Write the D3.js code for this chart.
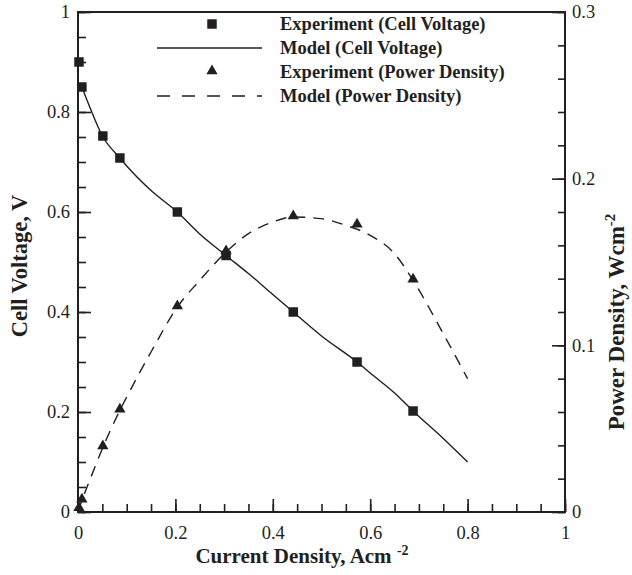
<!DOCTYPE html>
<html>
<head>
<meta charset="utf-8">
<script src="https://cdn.jsdelivr.net/npm/d3@7"></script>
<style>
  body { margin: 0; background: #fff; }
  text { font-family: "Liberation Serif", "Times New Roman", serif; fill: #231f20; }
</style>
</head>
<body>
<svg id="chart" width="632" height="575"></svg>
<script>
// experiment points
var expCurrent = [0.002, 0.008, 0.051, 0.086, 0.204, 0.304, 0.442, 0.573, 0.688];
var expVoltage = [0.9, 0.85, 0.752, 0.708, 0.6, 0.513, 0.4, 0.3, 0.202];
var expPower = [0.002, 0.007, 0.039, 0.061, 0.123, 0.156, 0.177, 0.172, 0.139];

// model curves
var modelCurrent = [0.008, 0.02, 0.05, 0.086, 0.1, 0.15, 0.204, 0.25, 0.304, 0.35, 0.4, 0.442, 0.5, 0.573, 0.6, 0.65, 0.688, 0.75, 0.8];
var modelVoltage = [0.85, 0.82, 0.752, 0.708, 0.692, 0.643, 0.6, 0.556, 0.513, 0.477, 0.435, 0.4, 0.352, 0.3, 0.278, 0.238, 0.202, 0.147, 0.1];
var powerCurrent = [0, 0.008, 0.02, 0.05, 0.086, 0.1, 0.15, 0.204, 0.25, 0.304, 0.35, 0.4, 0.442, 0.5, 0.55, 0.6, 0.65, 0.688, 0.75, 0.8];
var modelPower = [0, 0.007, 0.016, 0.038, 0.061, 0.069, 0.096, 0.123, 0.139, 0.156, 0.167, 0.174, 0.177, 0.176, 0.172, 0.166, 0.155, 0.139, 0.107, 0.08];

var xTicks = [0, 0.2, 0.4, 0.6, 0.8, 1];
var yTicks = [0, 0.2, 0.4, 0.6, 0.8, 1];
var y2Ticks = [0, 0.1, 0.2, 0.3];

var legendLabels = ['Experiment (Cell Voltage)', 'Model (Cell Voltage)', 'Experiment (Power Density)', 'Model (Power Density)'];

var INK = '#231f20';
var M = {left: 78, right: 67, top: 12, bottom: 63};
var W = 632, H = 575;

var svg = d3.select('#chart');

var x = d3.scaleLinear().domain([0, 1]).range([M.left, W - M.right]);
var y = d3.scaleLinear().domain([0, 1]).range([H - M.bottom, M.top]);
var y2 = d3.scaleLinear().domain([0, 0.3]).range([H - M.bottom, M.top]);

function axisStyle(g) {
  g.select('.domain').remove();
  g.selectAll('line').attr('stroke', INK).attr('stroke-width', 1.6);
  g.selectAll('text').attr('font-size', 18.5).attr('fill', INK).style('font-family', '"Liberation Serif", serif');
}

// minor ticks
svg.append('g').attr('transform', 'translate(0,' + (H - M.bottom) + ')')
  .call(d3.axisBottom(x).ticks(25).tickSize(-8).tickFormat(''))
  .call(axisStyle);
svg.append('g').attr('transform', 'translate(' + M.left + ',0)')
  .call(d3.axisLeft(y).ticks(20).tickSize(-8).tickFormat(''))
  .call(axisStyle);
svg.append('g').attr('transform', 'translate(' + (W - M.right) + ',0)')
  .call(d3.axisRight(y2).tickValues(d3.range(0, 0.301, 0.02)).tickSize(-7).tickFormat(''))
  .call(axisStyle);

// major ticks + labels
svg.append('g').attr('transform', 'translate(0,' + (H - M.bottom) + ')')
  .call(d3.axisBottom(x).tickValues(xTicks).tickSize(-13).tickPadding(14).tickFormat(d3.format('~g')))
  .call(axisStyle);
svg.append('g').attr('transform', 'translate(' + M.left + ',0)')
  .call(d3.axisLeft(y).tickValues(yTicks).tickSize(-13).tickPadding(8).tickFormat(d3.format('~g')))
  .call(axisStyle);
svg.append('g').attr('transform', 'translate(' + (W - M.right) + ',0)')
  .call(d3.axisRight(y2).tickValues(y2Ticks).tickSize(-13).tickPadding(7).tickFormat(d3.format('~g')))
  .call(axisStyle);

// frame
svg.append('rect')
  .attr('x', M.left).attr('y', M.top)
  .attr('width', W - M.left - M.right).attr('height', H - M.top - M.bottom)
  .attr('fill', 'none').attr('stroke', INK).attr('stroke-width', 2);

// model curves
var vLine = d3.line().curve(d3.curveMonotoneX)
  .x(function (d, i) { return x(modelCurrent[i]); })
  .y(function (d) { return y(d); });
var pLine = d3.line().curve(d3.curveMonotoneX)
  .x(function (d, i) { return x(powerCurrent[i]); })
  .y(function (d) { return y2(d); });

svg.append('path').attr('d', vLine(modelVoltage))
  .attr('fill', 'none').attr('stroke', INK).attr('stroke-width', 1.4);
svg.append('path').attr('d', pLine(modelPower))
  .attr('fill', 'none').attr('stroke', INK).attr('stroke-width', 1.4)
  .attr('stroke-dasharray', '11,8');

// markers
var sq = d3.symbol().type(d3.symbolSquare).size(90);
var tri = d3.symbol().type(d3.symbolTriangle).size(55);

svg.append('g').selectAll('path').data(expPower).join('path')
  .attr('d', tri)
  .attr('transform', function (d, i) { return 'translate(' + x(expCurrent[i]) + ',' + (y2(d) - 1) + ')'; })
  .attr('fill', INK);
svg.append('g').selectAll('path').data(expVoltage).join('path')
  .attr('d', sq)
  .attr('transform', function (d, i) { return 'translate(' + x(expCurrent[i]) + ',' + y(d) + ')'; })
  .attr('fill', INK);

// legend
var lg = svg.append('g');
var lx0 = 157, lx1 = 262, ltx = 280, ly0 = 24, ldy = 24;
legendLabels.forEach(function (lab, i) {
  var yy = ly0 + i * ldy;
  if (i === 0) lg.append('path').attr('d', sq).attr('transform', 'translate(212,' + yy + ')').attr('fill', INK);
  if (i === 2) lg.append('path').attr('d', tri).attr('transform', 'translate(212,' + (yy - 1) + ')').attr('fill', INK);
  if (i === 1 || i === 3) {
    lg.append('line').attr('x1', lx0).attr('x2', lx1).attr('y1', yy).attr('y2', yy)
      .attr('stroke', INK).attr('stroke-width', 1.4)
      .attr('stroke-dasharray', i === 3 ? '13,12' : null);
  }
  lg.append('text').attr('x', ltx).attr('y', yy).attr('dy', '0.33em')
    .attr('font-size', 18.5).attr('font-weight', 'bold').text(lab);
});

// axis titles
var xt = svg.append('text').attr('x', 302).attr('y', 563)
  .attr('text-anchor', 'middle').attr('font-size', 21).attr('font-weight', 'bold');
xt.append('tspan').text('Current Density, Acm ');
xt.append('tspan').attr('dy', -8).attr('font-size', 14).text('-2');

svg.append('text')
  .attr('transform', 'translate(27,266) rotate(-90)')
  .attr('text-anchor', 'middle').attr('font-size', 22.5).attr('font-weight', 'bold')
  .text('Cell Voltage, V');

var yt = svg.append('text')
  .attr('transform', 'translate(624,322) rotate(-90)')
  .attr('text-anchor', 'middle').attr('font-size', 23).attr('font-weight', 'bold');
yt.append('tspan').text('Power Density, Wcm');
yt.append('tspan').attr('dy', -9).attr('font-size', 15).text('-2');
</script>
</body>
</html>
